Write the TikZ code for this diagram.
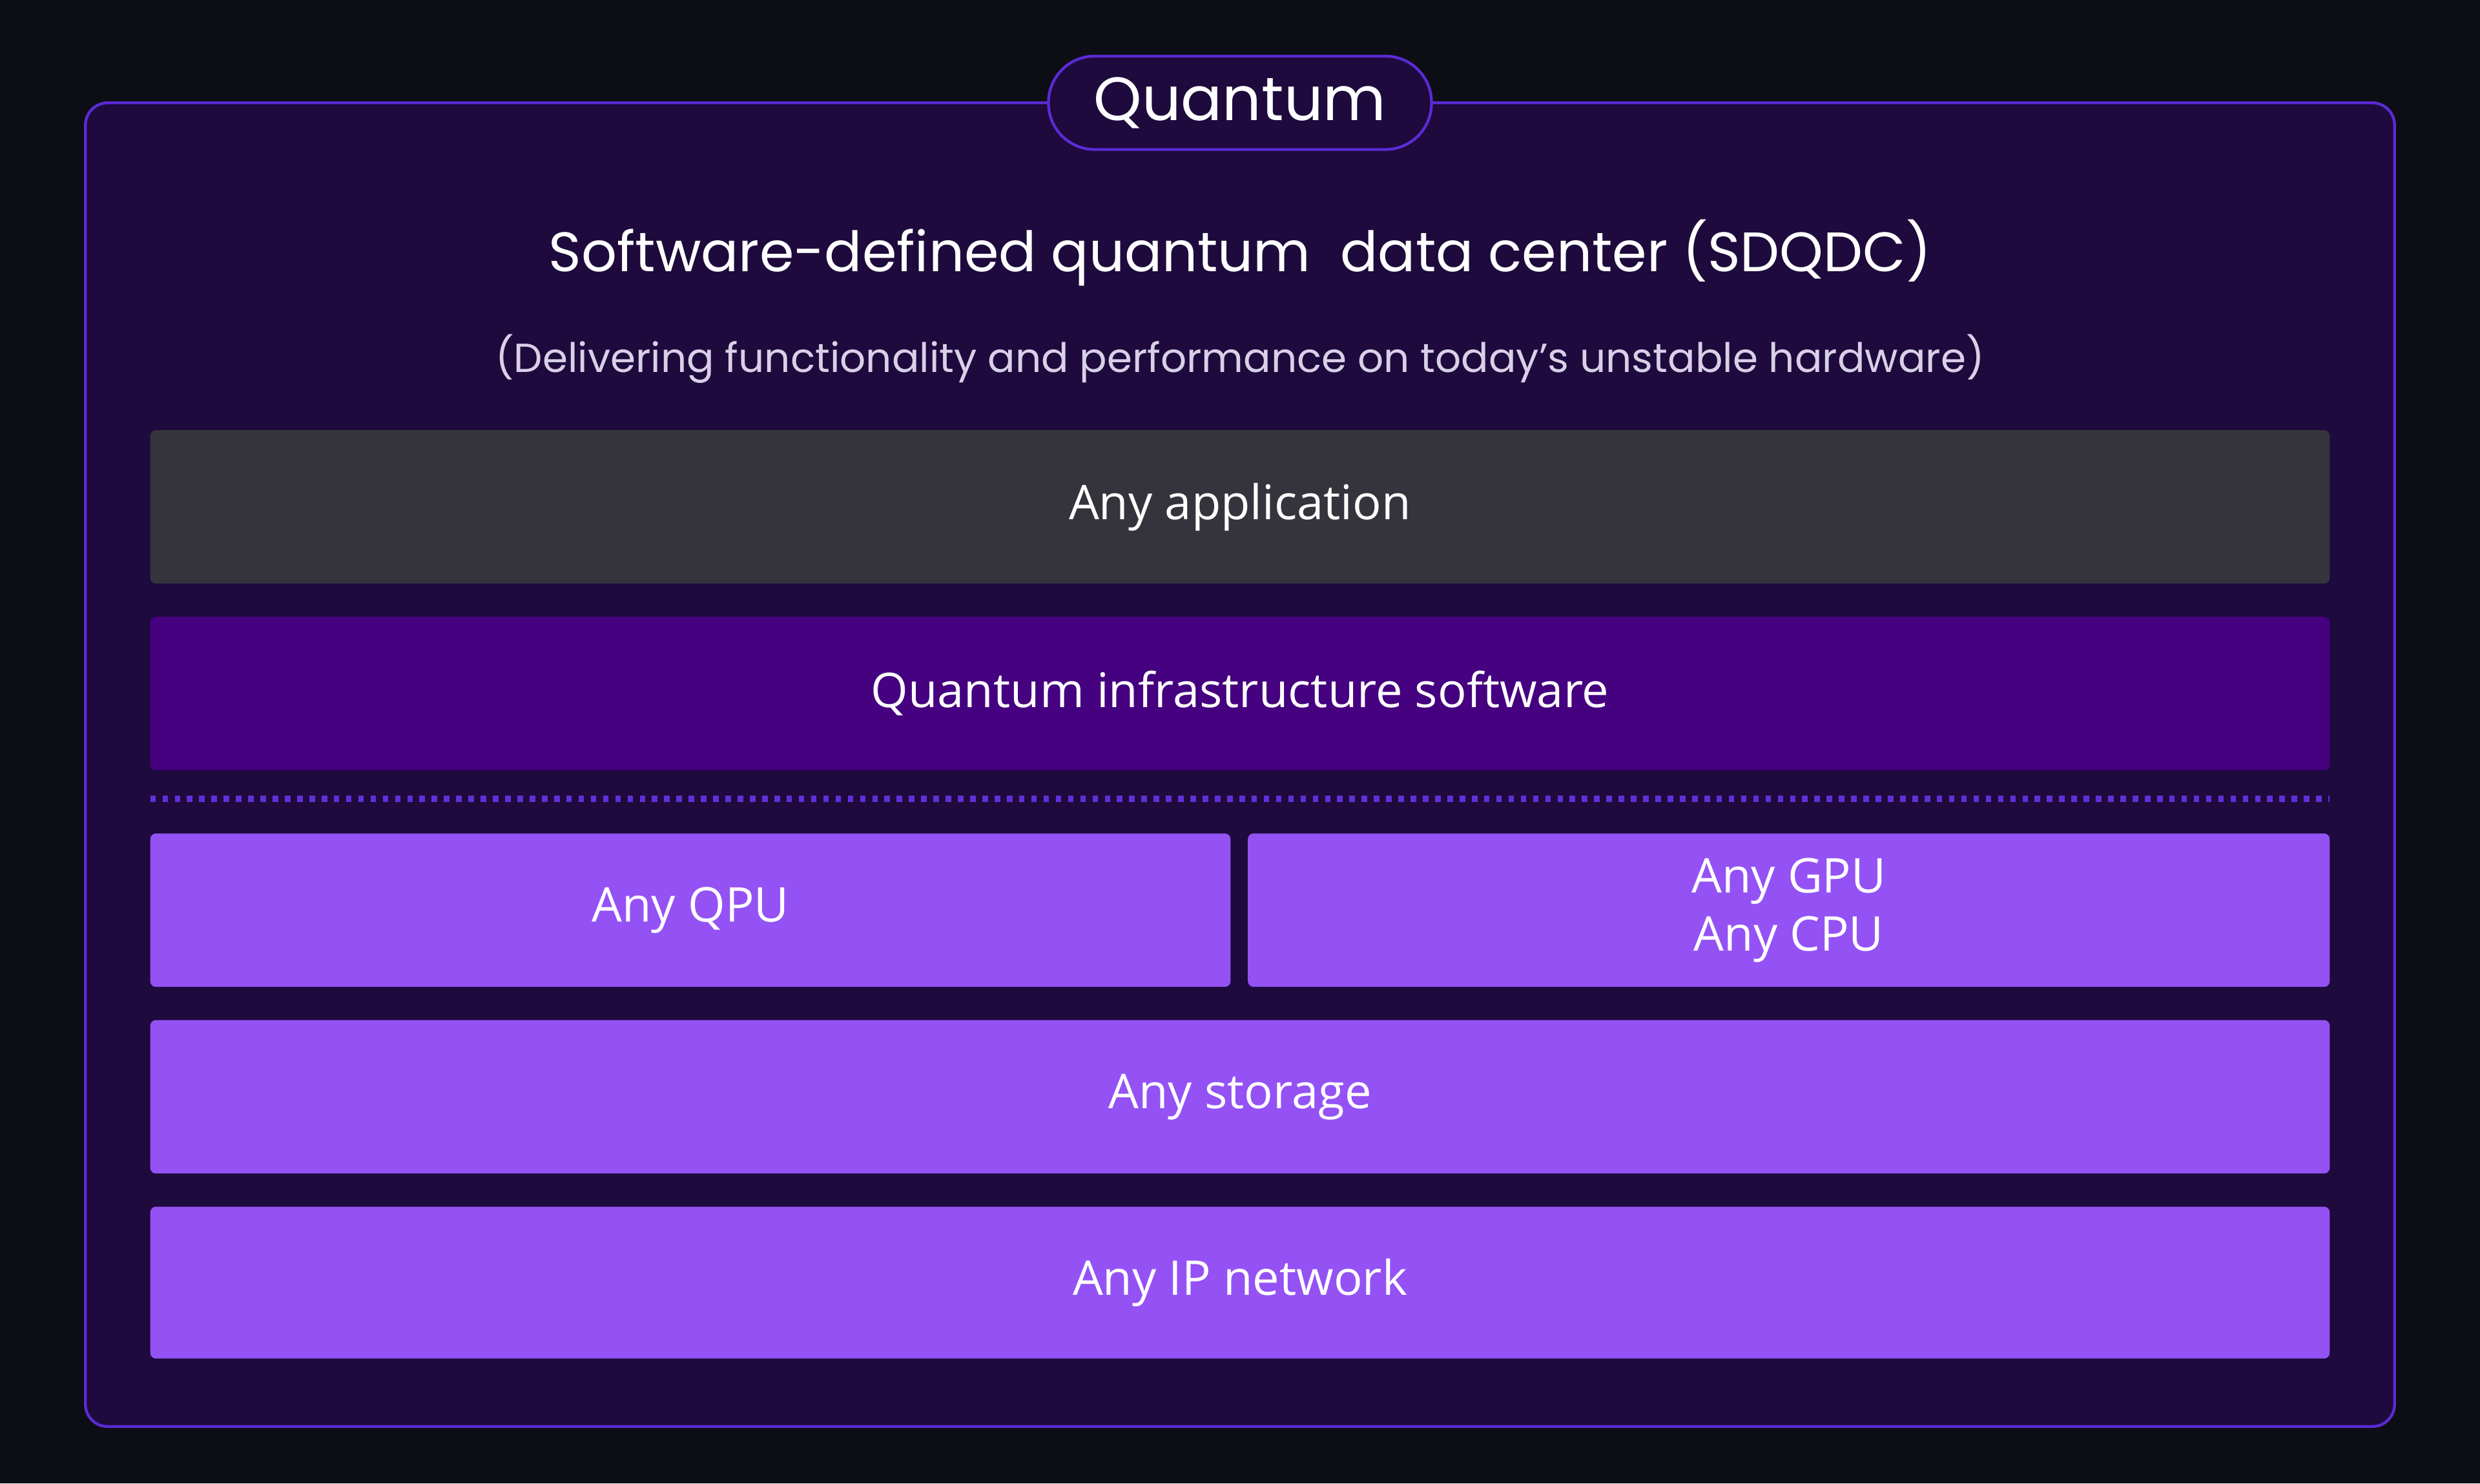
\documentclass[tikz,border=0pt]{standalone}
\usepackage{fontspec}
\setmainfont{Poppins}
\newfontfamily\bodyf{Open Sans}
\definecolor{bg}{HTML}{0D0E15}
\definecolor{panel}{HTML}{1E0A3C}
\definecolor{edge}{HTML}{5B2BD6}
\definecolor{appc}{HTML}{35343D}
\definecolor{infra}{HTML}{45017F}
\definecolor{hw}{HTML}{9452F5}
\definecolor{subt}{HTML}{D8D0E8}
\begin{document}
\begin{tikzpicture}[x=0.01cm,y=-0.01cm,
 layer/.style={draw=none,rounded corners=1pt,text=white,font=\bodyf\fontsize{8.6}{10.5}\selectfont,align=center}]
\fill[bg] (0,0) rectangle (1568,938);
\useasboundingbox (0,0) rectangle (1568,938);
\draw[edge,fill=panel,rounded corners=4pt,line width=0.5pt] (54,65) rectangle (1514,902);
\node[draw=edge,fill=panel,line width=0.5pt,rounded corners=8.3pt,minimum width=2.42cm,minimum height=0.59cm,text=white,font=\fontsize{11}{13}\selectfont] (badge) at (784,65) {Quantum};
\node[text=white,font=\fontsize{10}{12}\selectfont] (title) at (784,160) {Software-defined quantum\ \ data center (SDQDC)};
\node[text=subt,font=\fontsize{7.3}{9}\selectfont] (sub) at (784,227) {(Delivering functionality and performance on today’s unstable hardware)};
\path[layer,fill=appc] (95,272) rectangle node (app) {Any application} (1473,369);
\path[layer,fill=infra] (95,390) rectangle node (inf) {Quantum infrastructure software} (1473,487);
\coordinate (d1) at (95,505); \coordinate (d2) at (1473,505);
\draw[edge!90!hw,line width=1.2pt,dash pattern=on 1pt off 1.2pt] (d1) -- (d2);
\path[layer,fill=hw] (95,527) rectangle node (qpu) {Any QPU} (778,624);
\path[layer,fill=hw] (789,527) rectangle node (gpu) {Any GPU\\Any CPU} (1473,624);
\path[layer,fill=hw] (95,645) rectangle node (sto) {Any storage} (1473,742);
\path[layer,fill=hw] (95,763) rectangle node (net) {Any IP network} (1473,859);
\end{tikzpicture}
\end{document}
